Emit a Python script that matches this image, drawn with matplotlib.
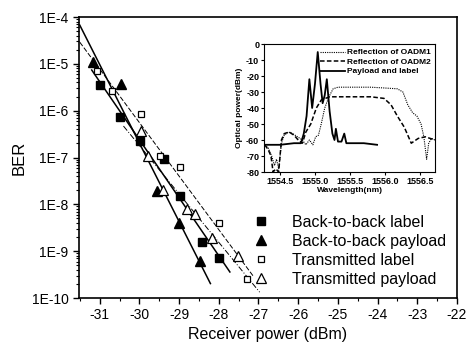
import numpy as np
import matplotlib
matplotlib.use("Agg")
import matplotlib.pyplot as plt
from matplotlib.lines import Line2D
from matplotlib.ticker import FixedLocator, LogLocator, NullFormatter, MultipleLocator

plt.rcParams["font.family"] = ["Liberation Sans", "DejaVu Sans"]

# BER curves (receiver power in dBm, BER)
btb_label_x = [-30.99, -30.48, -29.98, -29.37, -28.98, -28.41, -27.99]
btb_label_y = [3.5e-6, 7.2e-7, 2.3e-7, 9.3e-8, 1.5e-8, 1.56e-9, 7.2e-10]
btb_payload_x = [-31.18, -30.46, -29.55, -28.995, -28.47]
btb_payload_y = [1.1e-5, 3.7e-6, 1.95e-8, 4.0e-9, 6.2e-10]
tr_label_x = [-31.07, -30.68, -29.97, -29.48, -28.98, -27.99, -27.30]
tr_label_y = [7.1e-6, 2.6e-6, 8.6e-7, 1.1e-7, 6.3e-8, 3.9e-9, 2.6e-10]
tr_payload_x = [-29.97, -29.77, -29.41, -28.81, -28.60, -28.18, -27.51]
tr_payload_y = [3.7e-7, 1.1e-7, 2.0e-8, 8.1e-9, 6.3e-9, 1.9e-9, 7.8e-10]

# range of each fitted line (dBm)
btb_label_fit = (-31.2, -27.72)
btb_payload_fit = (-31.5, -28.21)
tr_label_fit = (-31.5, -27.14)
tr_payload_fit = (-30.4, -26.97)

# inset spectra (wavelength nm, power dBm)
oadm1_wl = [1554.28, 1554.33, 1554.38, 1554.42, 1554.45, 1554.48, 1554.52, 1554.56, 1554.62,
            1554.68, 1554.75, 1554.82, 1554.87, 1554.92, 1554.97, 1555.01, 1555.05, 1555.09,
            1555.14, 1555.20, 1555.26, 1555.33, 1555.41, 1555.60, 1555.80, 1556.00, 1556.18,
            1556.26, 1556.33, 1556.40, 1556.46, 1556.52, 1556.56, 1556.60, 1556.63, 1556.67,
            1556.72]
oadm1_p = [-63, -65, -70, -76, -72, -78, -62, -57, -55, -56, -58, -60, -63, -60, -63, -58, -57,
           -50, -40, -33, -28, -27, -27, -27, -27, -27.5, -28, -30, -38, -43, -45, -50, -58,
           -72, -62, -59, -60]
oadm2_wl = [1554.28, 1554.33, 1554.37, 1554.40, 1554.44, 1554.48, 1554.52, 1554.56, 1554.63,
            1554.70, 1554.76, 1554.82, 1554.87, 1554.94, 1555.02, 1555.09, 1555.21, 1555.50,
            1555.80, 1555.99, 1556.09, 1556.18, 1556.28, 1556.38, 1556.48, 1556.58, 1556.72]
oadm2_p = [-63, -66, -70, -80, -78, -80, -60, -56, -55, -57, -60, -62, -55, -50, -40, -35, -33,
           -33, -33, -34, -38, -45, -52, -62, -59, -58, -60]
payload_wl = [1554.28, 1554.50, 1554.70, 1554.80, 1554.84, 1554.88, 1554.92, 1554.96, 1555.00,
              1555.04, 1555.08, 1555.11, 1555.14, 1555.17, 1555.21, 1555.25, 1555.28, 1555.30,
              1555.33, 1555.38, 1555.42, 1555.45, 1555.55, 1555.70, 1555.89]
payload_p = [-63, -63, -62, -62, -56, -45, -22, -40, -25, -5, -25, -37, -32, -22, -42, -56,
             -60, -53, -61, -61, -56, -62, -62, -62, -63]


def fit_line(ax, xs, ys, xr, **kw):
    # straight line in log(BER) vs power
    k, b = np.polyfit(xs, np.log10(ys), 1)
    xx = np.array(xr)
    ax.plot(xx, 10 ** (k * xx + b), **kw)


fig = plt.figure(figsize=(4.7, 3.5), dpi=100)
ax = fig.add_axes([79 / 470, 1 - 298 / 350, 378 / 470, 281 / 350])

fit_line(ax, btb_label_x, btb_label_y, btb_label_fit, color="black", lw=1.1)
fit_line(ax, btb_payload_x, btb_payload_y, btb_payload_fit, color="black", lw=1.1)
fit_line(ax, tr_label_x, tr_label_y, tr_label_fit, color="black", lw=0.7, ls=(0, (5, 2)))
fit_line(ax, tr_payload_x, tr_payload_y, tr_payload_fit, color="black", lw=0.7, ls=(0, (6, 2, 1, 2)))

ax.plot(btb_label_x, btb_label_y, "s", ms=6, color="black", ls="none")
ax.plot(btb_payload_x, btb_payload_y, "^", ms=7.5, color="black", ls="none")
ax.plot(tr_label_x, tr_label_y, "s", ms=4.5, mfc="white", mec="black", mew=0.9, ls="none")
ax.plot(tr_payload_x, tr_payload_y, "^", ms=6.5, mfc="white", mec="black", mew=0.9, ls="none")

ax.set_yscale("log")
ax.set_ylim(1e-10, 1e-4)
ax.set_xlim(-31.52, -22)
ax.yaxis.set_major_locator(FixedLocator([10.0 ** e for e in range(-10, -3)]))
ax.set_yticklabels([f"1E{e}" for e in range(-10, -3)])
ax.yaxis.set_minor_locator(LogLocator(base=10, subs=np.arange(2, 10), numticks=20))
ax.yaxis.set_minor_formatter(NullFormatter())
ax.set_xticks(range(-31, -21))
ax.set_xticklabels([str(v) for v in range(-31, -21)])
ax.xaxis.set_minor_locator(MultipleLocator(0.5))
ax.tick_params(which="both", direction="out", labelsize=10, top=False, right=False)
ax.tick_params(which="major", length=4, width=1)
ax.tick_params(which="minor", length=2, width=0.8)
for s in ax.spines.values():
    s.set_linewidth(1.2)
ax.set_xlabel("Receiver power (dBm)", fontsize=11.5, labelpad=3)
ax.set_ylabel("BER", fontsize=12, labelpad=4)

handles = [
    Line2D([], [], marker="s", ms=6, color="black", ls="none"),
    Line2D([], [], marker="^", ms=7.5, color="black", ls="none"),
    Line2D([], [], marker="s", ms=4.5, mfc="white", mec="black", mew=0.9, ls="none"),
    Line2D([], [], marker="^", ms=6.5, mfc="white", mec="black", mew=0.9, ls="none"),
]
labels = ["Back-to-back label", "Back-to-back payload", "Transmitted label", "Transmitted payload"]
ax.legend(handles, labels, loc="lower right", bbox_to_anchor=(1.0, 0.0), frameon=False,
          fontsize=11.5, labelspacing=0.25, handletextpad=0.9, borderaxespad=0.3)

# inset spectrum
ins = fig.add_axes([264 / 470, 1 - 172 / 350, 171 / 470, 128 / 350])
ins.plot(oadm1_wl, oadm1_p, color="black", lw=0.8, ls=(0, (1, 1)), label="Reflection of OADM1")
ins.plot(oadm2_wl, oadm2_p, color="black", lw=1.1, ls=(0, (3, 1.5)), label="Reflection of OADM2")
ins.plot(payload_wl, payload_p, color="black", lw=1.3, label="Payload and label")
ins.set_xlim(1554.27, 1556.72)
ins.set_ylim(-80, 0)
ins.set_yticks(range(-80, 1, 10))
ins.set_yticklabels([str(v) for v in range(-80, 1, 10)], fontweight="bold")
ins.set_xticks([1554.5, 1555.0, 1555.5, 1556.0, 1556.5])
ins.set_xticklabels(["1554.5", "1555.0", "1555.5", "1556.0", "1556.5"], fontweight="bold")
ins.tick_params(labelsize=6.5, length=2, direction="out", pad=1.5, top=False, right=False)
ins.set_xlabel("Wavelength(nm)", fontsize=6, fontweight="bold", labelpad=1)
ins.set_ylabel("Optical power(dBm)", fontsize=6, fontweight="bold", labelpad=2)
ins.legend(loc="upper right", frameon=False, prop={"size": 6, "weight": "bold"},
           handlelength=3.0, labelspacing=0.2, handletextpad=0.2, borderaxespad=0.15)

fig.savefig("out.png", dpi=100)
